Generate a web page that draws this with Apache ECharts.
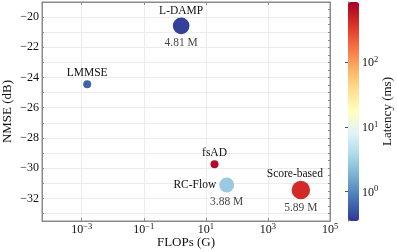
<!DOCTYPE html>
<html><head><meta charset="utf-8">
<script src="https://cdn.jsdelivr.net/npm/echarts@6/dist/echarts.min.js"></script>
<style>html,body{margin:0;padding:0;background:#fff}#c{width:397px;height:252px}</style>
</head><body><div id="c"></div>
<script>
// ---- data ----
const methods = ['LMMSE', 'L-DAMP', 'fsAD', 'RC-Flow', 'Score-based'];
const flopsG = [1.5e-3, 1.6, 19, 47, 1.15e4];
const nmseDb = [-24.45, -20.58, -29.75, -31.12, -31.45];
const latencyMs = [0.6, 0.4, 700, 2.8, 420];
const paramsM = [null, 4.81, null, 3.88, 5.89];
const paramLabels = ['', '4.81 M', '', '3.88 M', '5.89 M'];
const xTickValues = [1e-3, 1e-1, 1e1, 1e3, 1e5];
const yLabelValues = [-32, -30, -28, -26, -24, -22, -20];
const cbarTickValues = [1, 10, 100];

// ---- styling ----
const SERIF = '"Liberation Serif","Times New Roman",serif';
const RdYlBu_r = ['#313695','#4575b4','#74add1','#abd9e9','#e0f3f8','#ffffbf','#fee090','#fdae61','#f46d43','#d73027','#a50026'];
const latMin = 0.35, latMax = 850;
const xMin = Math.pow(10, -4.28), xMax = 1e5;
const yMin = -33.5, yMax = -19;
const AX = '#8a8a8a';
const labelStyle = {
  'LMMSE': {position: 'top', distance: 1},
  'L-DAMP': {position: 'top', distance: 1},
  'fsAD': {position: 'top', distance: 1},
  'RC-Flow': {position: 'left', distance: 3},
  'Score-based': {position: 'top', distance: 1, offset: [-6, 0]}
};

function range(a, b, s) { const r = []; for (let v = a; v <= b + 1e-9; v += s) r.push(+v.toFixed(3)); return r; }
function sup(v) {
  const e = Math.round(Math.log10(v));
  return '{b|10}{s|' + (e < 0 ? '\u2212' + (-e) : e) + '}';
}
const supRich = {
  b: {fontFamily: SERIF, fontSize: 12, color: '#111', lineHeight: 14, verticalAlign: 'bottom'},
  s: {fontFamily: SERIF, fontSize: 8.5, color: '#111', lineHeight: 9, verticalAlign: 'top'}
};
function symSize(val) { return val[3] ? 7.6 * Math.sqrt(val[3]) : 8; }

const pts = methods.map((m, i) => ({
  name: m,
  value: [flopsG[i], nmseDb[i], Math.log10(latencyMs[i]), paramsM[i]],
  label: Object.assign({}, labelStyle[m])
}));
const pts2 = methods.map((m, i) => ({
  name: paramLabels[i],
  value: [flopsG[i], nmseDb[i], Math.log10(latencyMs[i]), paramsM[i]]
}));

const minorCbar = [];
[0.1, 1, 10, 100].forEach(d => { for (let k = 2; k <= 9; k++) { const v = d * k; if (v >= latMin && v <= latMax) minorCbar.push(v); } });

const chart = echarts.init(document.getElementById('c'), null, {renderer: 'canvas'});
chart.setOption({
  animation: false,
  backgroundColor: '#fff',
  grid: [
    {left: 42, top: 2, width: 288, height: 219, show: true, borderColor: AX, borderWidth: 1, containLabel: false, outerBoundsMode: 'none'},
    {left: 348, top: 2, width: 11, height: 219, show: false, containLabel: false, outerBoundsMode: 'none'}
  ],
  xAxis: [
    {type: 'log', gridIndex: 0, min: xMin, max: xMax, position: 'bottom',
     axisLine: {show: true, lineStyle: {color: AX}},
     axisTick: {show: true, inside: true, length: 3, customValues: xTickValues, lineStyle: {color: AX}},
     axisLabel: {customValues: xTickValues, formatter: sup, rich: supRich, margin: 1},
     splitLine: {show: true, lineStyle: {color: '#ececec', width: 1}},
     minorTick: {show: false}, minorSplitLine: {show: false},
     name: 'FLOPs (G)', nameLocation: 'middle', nameGap: 15, nameMoveOverlap: false,
     nameTextStyle: {fontFamily: SERIF, fontSize: 13, color: '#111'}},
    {type: 'log', gridIndex: 0, min: xMin, max: xMax, position: 'top',
     axisLine: {show: true, lineStyle: {color: AX}},
     axisTick: {show: true, inside: true, length: 3, customValues: xTickValues, lineStyle: {color: AX}},
     axisLabel: {show: false}, splitLine: {show: false}},
    {type: 'value', gridIndex: 1, min: 0, max: 1, show: false}
  ],
  yAxis: [
    {type: 'value', gridIndex: 0, min: yMin, max: yMax, position: 'left',
     axisLine: {show: true, lineStyle: {color: AX}},
     axisTick: {show: true, inside: true, length: 2, customValues: range(-33, -19, 1), lineStyle: {color: AX}},
     axisLabel: {customValues: yLabelValues, margin: 3, fontFamily: SERIF, fontSize: 12, color: '#111',
       formatter: v => String(v).replace('-', '\u2212')},
     splitLine: {show: true, lineStyle: {color: '#ececec', width: 1}},
     name: 'NMSE (dB)', nameLocation: 'middle', nameGap: 28, nameRotate: 90, nameMoveOverlap: false,
     nameTextStyle: {fontFamily: SERIF, fontSize: 13, color: '#111'}},
    {type: 'value', gridIndex: 0, min: yMin, max: yMax, position: 'right',
     axisLine: {show: true, lineStyle: {color: AX}},
     axisTick: {show: true, inside: true, length: 2, customValues: range(-33.5, -19, 0.5), lineStyle: {color: AX}},
     axisLabel: {show: false}, splitLine: {show: false}},
    {type: 'log', gridIndex: 1, min: latMin, max: latMax, position: 'right',
     axisLine: {show: true, lineStyle: {color: AX}},
     axisTick: {show: true, inside: true, length: 3, customValues: cbarTickValues, lineStyle: {color: '#555'}},
     axisLabel: {customValues: cbarTickValues, formatter: sup, rich: supRich, margin: 3},
     splitLine: {show: false},
     name: 'Latency (ms)', nameLocation: 'middle', nameGap: 22, nameRotate: 90, nameMoveOverlap: false,
     nameTextStyle: {fontFamily: SERIF, fontSize: 13, color: '#111'}},
    {type: 'log', gridIndex: 1, min: latMin, max: latMax, position: 'right',
     axisLine: {show: false},
     axisTick: {show: true, inside: true, length: 1.5, customValues: minorCbar, lineStyle: {color: '#555'}},
     axisLabel: {show: false}, splitLine: {show: false}},
    {type: 'value', gridIndex: 1, min: 0, max: 1, position: 'left',
     axisLine: {show: true, lineStyle: {color: AX}}, axisTick: {show: false}, axisLabel: {show: false}, splitLine: {show: false}}
  ],
  visualMap: {
    type: 'continuous', seriesIndex: 0, dimension: 2,
    min: Math.log10(latMin), max: Math.log10(latMax),
    inRange: {color: RdYlBu_r},
    calculable: false, hoverLink: false, text: null, showLabel: false,
    orient: 'vertical', left: 348, top: 2, padding: 0,
    itemWidth: 11, itemHeight: 219, z: 1
  },
  series: [
    {type: 'scatter', xAxisIndex: 0, yAxisIndex: 0, data: pts, symbolSize: symSize, z: 3,
     itemStyle: {opacity: 1},
     label: {show: true, formatter: p => p.name, fontFamily: SERIF, fontSize: 11.5, color: '#111'}},
    {type: 'scatter', xAxisIndex: 0, yAxisIndex: 0, data: pts2, symbolSize: symSize, z: 4,
     itemStyle: {color: 'rgba(0,0,0,0)'}, silent: true,
     label: {show: true, position: 'bottom', distance: 3, formatter: p => p.name,
       fontFamily: SERIF, fontSize: 11.5, color: '#111'}}
  ]
});
</script>
</body></html>
